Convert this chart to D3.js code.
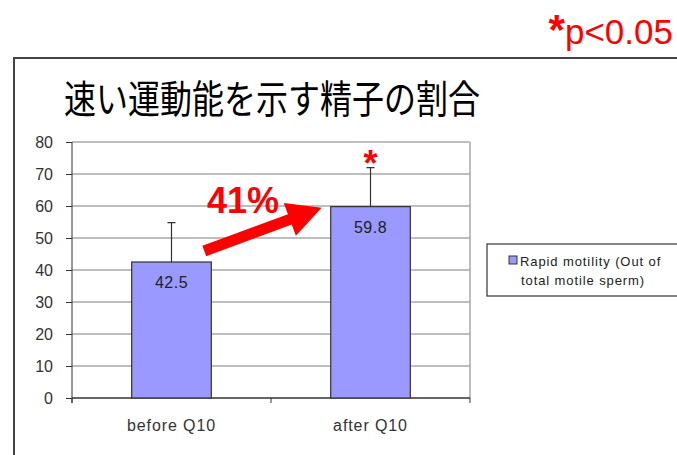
<!DOCTYPE html>
<html>
<head>
<meta charset="utf-8">
<script src="https://cdn.jsdelivr.net/npm/d3@7"></script>
<style>
  body { margin: 0; background: #fff; }
  svg { display: block; font-family: 'Liberation Sans', Arial, sans-serif; }
</style>
</head>
<body>
<svg width="677" height="455"></svg>
<script>
const categories = ['before Q10', 'after Q10'];
const values = [42.5, 59.8];
const errorTops = [54.8, 72];
const yTicks = [0, 10, 20, 30, 40, 50, 60, 70, 80];
const legendLines = ['Rapid motility (Out of', 'total motile sperm)'];
const titleText = '速い運動能を示す精子の割合';
const increaseText = '41%';

const svg = d3.select('svg');
const margin = { top: 142, left: 72 };
const innerWidth = 398;
const innerHeight = 256;

// outer frame of the slide chart
svg.append('rect')
    .attr('x', 14).attr('y', 58)
    .attr('width', 700).attr('height', 500)
    .attr('fill', 'none')
    .attr('stroke', '#444')
    .attr('stroke-width', 2);

svg.append('text')
    .attr('transform', 'translate(272, 113) scale(1, 1.2)')
    .attr('text-anchor', 'middle')
    .attr('font-family', "'Noto Sans CJK JP', sans-serif")
    .attr('font-size', 32)
    .attr('fill', '#000')
    .text(titleText);

const sig = svg.append('text')
    .attr('x', 673).attr('y', 44)
    .attr('text-anchor', 'end')
    .attr('fill', '#ff0000');
sig.append('tspan').attr('font-size', 42).attr('font-weight', 'bold').text('*');
sig.append('tspan').attr('font-size', 35).text('p<0.05');

const xScale = d3.scaleBand()
    .domain(categories)
    .range([0, innerWidth])
    .paddingInner(0.6)
    .paddingOuter(0.3);

const yScale = d3.scaleLinear()
    .domain([0, 80])
    .range([innerHeight, 0]);

const g = svg.append('g')
    .attr('transform', `translate(${margin.left}, ${margin.top})`);

// gridlines
g.append('g').selectAll('line').data(yTicks.filter(d => d > 0))
    .enter().append('line')
        .attr('x1', 0).attr('x2', innerWidth)
        .attr('y1', d => yScale(d)).attr('y2', d => yScale(d))
        .attr('stroke', '#a8a8a8')
        .attr('stroke-width', 1.5);

g.append('line')
    .attr('x1', innerWidth).attr('x2', innerWidth)
    .attr('y1', 0).attr('y2', innerHeight)
    .attr('stroke', '#a8a8a8')
    .attr('stroke-width', 1.5);

const yAxis = g.append('g')
    .call(d3.axisLeft(yScale).tickValues(yTicks).tickSize(6).tickPadding(13));
yAxis.select('.domain').attr('stroke', '#333').attr('d', `M-0,0V${innerHeight + 5}`);
yAxis.selectAll('.tick line').attr('stroke', '#333');
yAxis.selectAll('.tick text')
    .attr('font-family', "'Liberation Sans', Arial, sans-serif")
    .attr('font-size', 16)
    .attr('fill', '#333');

// bottom axis with ticks between categories
const xAxis = g.append('g')
    .attr('transform', `translate(0, ${innerHeight})`);
xAxis.append('line')
    .attr('x1', 0).attr('x2', innerWidth)
    .attr('stroke', '#333').attr('stroke-width', 1.5);
xAxis.selectAll('.sep').data([0, innerWidth / 2, innerWidth])
    .enter().append('line')
        .attr('x1', d => d).attr('x2', d => d)
        .attr('y1', 0).attr('y2', 5)
        .attr('stroke', '#333');
xAxis.selectAll('.lab').data(categories)
    .enter().append('text')
        .attr('x', d => xScale(d) + xScale.bandwidth() / 2)
        .attr('y', 33)
        .attr('text-anchor', 'middle')
        .attr('font-size', 16)
        .attr('letter-spacing', 0.9)
        .attr('fill', '#333')
        .text(d => d);

// error bars
g.selectAll('.err').data(categories)
    .enter().append('path')
        .attr('d', (d, i) => {
            const cx = xScale(d) + xScale.bandwidth() / 2;
            return `M${cx},${yScale(values[i])}V${yScale(errorTops[i])}M${cx - 4},${yScale(errorTops[i])}H${cx + 4}`;
        })
        .attr('stroke', '#333')
        .attr('stroke-width', 1.2)
        .attr('fill', 'none');

g.selectAll('.bar').data(categories)
    .enter().append('rect')
        .attr('x', d => xScale(d))
        .attr('y', (d, i) => yScale(values[i]))
        .attr('width', xScale.bandwidth())
        .attr('height', (d, i) => innerHeight - yScale(values[i]))
        .attr('fill', '#9999ff')
        .attr('stroke', '#333')
        .attr('stroke-width', 1.2);

g.selectAll('.val').data(categories)
    .enter().append('text')
        .attr('x', d => xScale(d) + xScale.bandwidth() / 2)
        .attr('y', (d, i) => yScale(values[i]) + 26)
        .attr('text-anchor', 'middle')
        .attr('font-size', 16)
        .attr('letter-spacing', 0.5)
        .attr('fill', '#222')
        .text((d, i) => values[i]);

// significance star above the second bar
g.append('text')
    .attr('x', xScale(categories[1]) + xScale.bandwidth() / 2)
    .attr('y', yScale(errorTops[1]) + 8)
    .attr('text-anchor', 'middle')
    .attr('font-size', 36)
    .attr('font-weight', 'bold')
    .attr('fill', '#ff0000')
    .text('*');

// red arrow from first bar to second bar
const x0 = xScale(categories[0]) + xScale.bandwidth() - 7;
const y0 = yScale(values[0]) - 11;
const x1 = xScale(categories[1]) - 9;
const y1 = yScale(values[1]) + 1;
const ang = Math.atan2(y1 - y0, x1 - x0) * 180 / Math.PI;
const len = Math.hypot(x1 - x0, y1 - y0);
g.append('path')
    .attr('transform', `translate(${x0}, ${y0}) rotate(${ang})`)
    .attr('d', `M0,-5.5H${len - 34}V-17.5L${len},0L${len - 34},17.5V5.5H0Z`)
    .attr('fill', '#ff0000');

g.append('text')
    .attr('x', 135).attr('y', 71)
    .attr('font-size', 36)
    .attr('font-weight', 'bold')
    .attr('fill', '#ff0000')
    .text(increaseText);

// legend
const legend = svg.append('g').attr('transform', 'translate(487, 244)');
legend.append('rect')
    .attr('width', 200).attr('height', 52)
    .attr('fill', '#fff')
    .attr('stroke', '#333')
    .attr('stroke-width', 1.2);
legend.append('rect')
    .attr('x', 22).attr('y', 12)
    .attr('width', 8).attr('height', 8)
    .attr('fill', '#9999ff')
    .attr('stroke', '#333');
legend.selectAll('.leg').data(legendLines)
    .enter().append('text')
        .attr('x', (d, i) => i === 0 ? 33 : 34)
        .attr('y', (d, i) => 22 + i * 19)
        .attr('font-size', 13)
        .attr('letter-spacing', 0.9)
        .attr('fill', '#222')
        .text(d => d);
</script>
</body>
</html>
